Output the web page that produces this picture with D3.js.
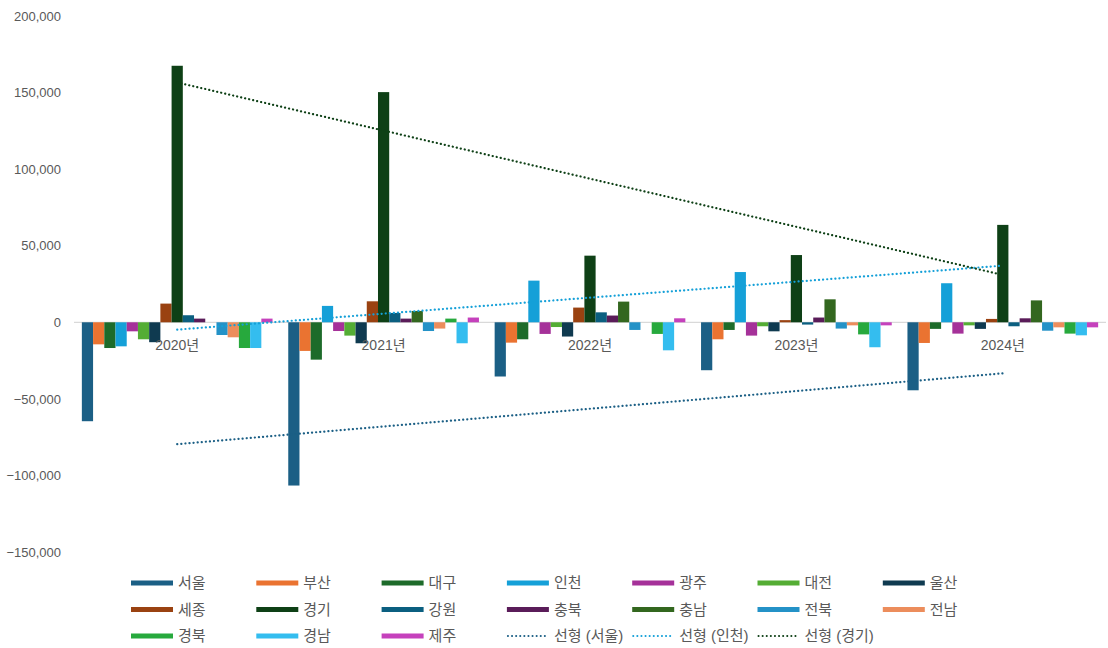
<!DOCTYPE html>
<html>
<head>
<meta charset="utf-8">
<script src="https://cdn.jsdelivr.net/npm/d3@7"></script>
<style>
  body { margin: 0; background: #fff; }
  svg { font-family: "Liberation Sans", "Noto Sans CJK KR", sans-serif; }
</style>
</head>
<body>
<svg id="chart" width="1108" height="648"></svg>
<script>
// categories and series
const years = ["2020년", "2021년", "2022년", "2023년", "2024년"];
const regions = ["서울", "부산", "대구", "인천", "광주", "대전", "울산", "세종", "경기",
                 "강원", "충북", "충남", "전북", "전남", "경북", "경남", "제주"];
const colors = ["#1b5f85", "#ea7331", "#1d6b2a", "#15a0d8", "#a53199", "#54ad34", "#0f3a50",
                "#9a4211", "#0e4016", "#0b5f80", "#5a1c59", "#33671f", "#2492c7", "#ec8d5c",
                "#27a93d", "#34bdef", "#c541bc"];
const values = {
  "서울": [-64600, -106600, -35400, -31300, -44400],
  "부산": [-14400, -18700, -13300, -11100, -13500],
  "대구": [-16800, -24400, -11100, -5000, -4300],
  "인천": [-15700, 10700, 27200, 32800, 25500],
  "광주": [-5900, -5700, -7600, -8700, -7400],
  "대전": [-11100, -8700, -3100, -2600, -2000],
  "울산": [-13000, -13700, -9300, -5900, -4300],
  "세종": [12200, 13700, 9600, 1400, 2200],
  "경기": [167500, 150300, 43500, 43900, 63600],
  "강원": [4600, 6100, 6500, -1500, -2600],
  "충북": [2400, 2400, 4400, 3100, 2600],
  "충남": [0, 7400, 13500, 15000, 14300],
  "전북": [-8300, -5700, -5000, -4100, -5500],
  "전남": [-9800, -4100, 0, -2000, -3300],
  "경북": [-16800, 2400, -7600, -7900, -7400],
  "경남": [-16800, -13700, -18300, -16300, -8500],
  "제주": [2400, 3100, 2600, -2000, -3300]
};
const trendSeries = ["서울", "인천", "경기"];
const yTicks = [200000, 150000, 100000, 50000, 0, -50000, -100000, -150000];

const svg = d3.select("#chart");
const plotLeft = 74, plotRight = 1106, plotTop = 16, plotBottom = 552;

// scales
const x0 = d3.scaleBand().domain(years).range([plotLeft, plotRight]).padding(0);
const x1 = d3.scaleBand().domain(regions).range([0, x0.bandwidth()])
  .paddingInner(0).paddingOuter(0.7);
const y = d3.scaleLinear().domain([-150000, 200000]).range([plotBottom, plotTop]);
const color = d3.scaleOrdinal().domain(regions).range(colors);

// y axis labels
const yAxis = svg.append("g")
  .attr("transform", "translate(" + 61 + ",0)")
  .call(d3.axisLeft(y).tickValues(yTicks).tickSize(0).tickPadding(0)
    .tickFormat(d3.format(",")));
yAxis.select(".domain").remove();
yAxis.selectAll("text")
  .attr("fill", "#595959")
  .style("font-size", "13px");

// zero line
svg.append("line")
  .attr("x1", plotLeft).attr("x2", plotRight)
  .attr("y1", y(0)).attr("y2", y(0))
  .attr("stroke", "#d9d9d9").attr("stroke-width", 1.2);

// bars
const groups = svg.selectAll(".year")
  .data(years)
  .enter().append("g")
  .attr("class", "year")
  .attr("transform", (d) => "translate(" + x0(d) + ",0)");

groups.selectAll("rect")
  .data((d, i) => regions.map((r) => ({ region: r, value: values[r][i] })))
  .enter().append("rect")
  .attr("x", (d) => x1(d.region))
  .attr("width", x1.bandwidth())
  .attr("y", (d) => y(Math.max(0, d.value)))
  .attr("height", (d) => Math.abs(y(d.value) - y(0)))
  .attr("fill", (d) => color(d.region));

// category labels
svg.append("g").selectAll("text")
  .data(years)
  .enter().append("text")
  .attr("x", (d) => x0(d) + x0.bandwidth() / 2)
  .attr("y", y(0) + 28)
  .attr("text-anchor", "middle")
  .attr("fill", "#595959")
  .style("font-size", "14px")
  .text((d) => d);

// linear trendlines (least squares over the five years)
function trend(vals) {
  const n = vals.length;
  const xs = vals.map((v, i) => i + 1);
  const mx = d3.mean(xs), my = d3.mean(vals);
  const slope = d3.sum(xs, (xv, i) => (xv - mx) * (vals[i] - my)) /
    d3.sum(xs, (xv) => (xv - mx) * (xv - mx));
  const icpt = my - slope * mx;
  return [[1, icpt + slope], [n, icpt + slope * n]];
}
const xCenter = (i) => x0(years[i - 1]) + x0.bandwidth() / 2;

trendSeries.forEach((r) => {
  const pts = trend(values[r]);
  svg.append("line")
    .attr("x1", xCenter(pts[0][0])).attr("y1", y(pts[0][1]))
    .attr("x2", xCenter(pts[1][0])).attr("y2", y(pts[1][1]))
    .attr("stroke", color(r))
    .attr("stroke-width", 2.2)
    .attr("stroke-dasharray", "0.1,4")
    .attr("stroke-linecap", "round");
});

// legend
const legendItems = regions.map((r) => ({ label: r, key: r, trend: false }))
  .concat(trendSeries.map((r) => ({ label: "선형 (" + r + ")", key: r, trend: true })));
const legend = svg.append("g").selectAll("g")
  .data(legendItems)
  .enter().append("g")
  .attr("transform", (d, i) => "translate(" + (131 + (i % 7) * 125.3) + "," + (583 + Math.floor(i / 7) * 26.5) + ")");

legend.filter((d) => !d.trend).append("rect")
  .attr("x", 0).attr("y", -2.5)
  .attr("width", 42).attr("height", 5)
  .attr("fill", (d) => color(d.key));

legend.filter((d) => d.trend).append("line")
  .attr("x1", 1).attr("x2", 42).attr("y1", 0).attr("y2", 0)
  .attr("stroke", (d) => color(d.key))
  .attr("stroke-width", 2)
  .attr("stroke-dasharray", "0.1,4")
  .attr("stroke-linecap", "round");

legend.append("text")
  .attr("x", 47).attr("y", 0)
  .attr("dy", "0.35em")
  .attr("fill", "#595959")
  .style("font-size", "15px")
  .text((d) => d.label);
</script>
</body>
</html>
